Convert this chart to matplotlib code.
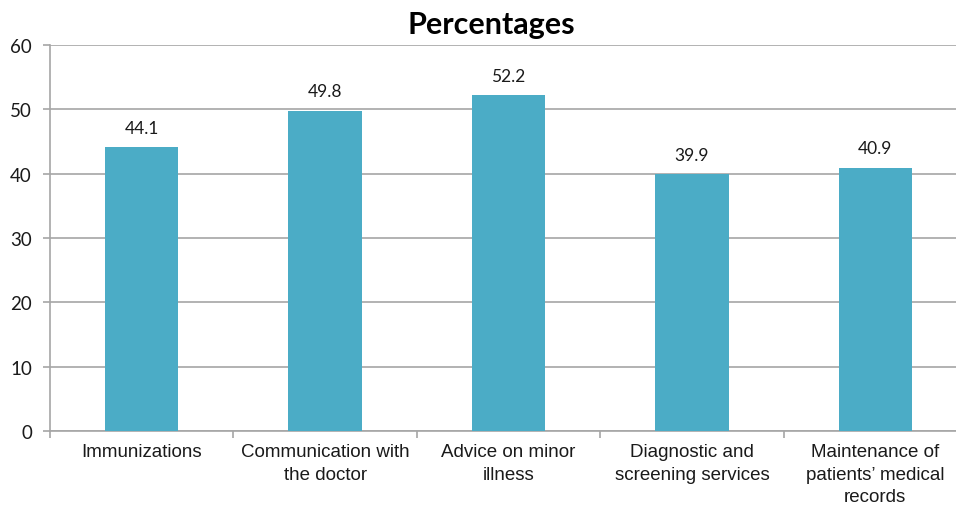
import numpy as np
import matplotlib.pyplot as plt

# Plot settings
plt.rcParams['font.family'] = 'Liberation Sans'
plt.rcParams['font.size'] = '13.5'

# Data
categories = ['Immunizations', 'Communication with\nthe doctor', 'Advice on minor\nillness',
              'Diagnostic and\nscreening services', 'Maintenance of\npatients\u2019 medical\nrecords']
values = [44.1, 49.8, 52.2, 39.9, 40.9]
yticks = [0, 10, 20, 30, 40, 50, 60]

BAR_COLOR = '#4BACC6'
GRID_COLOR = '#a6a6a6'

fig = plt.figure(figsize=(9.56, 5.06), dpi=100)
# axes runs slightly past the right border
ax = fig.add_axes([50/956, 1 - 432/506, 917/956, 386/506])

x = np.arange(len(categories))
ax.bar(x, values, width=0.4, color=BAR_COLOR, zorder=3)

for xi, v in zip(x, values):
    ax.annotate(f'{v:.1f}', (xi, v), xytext=(0, 14), textcoords='offset points',
                ha='center', va='center', fontsize=12.5, family='Lato', color='#1a1a1a')

ax.set_xlim(-0.5, len(categories) - 0.5)
ax.set_ylim(0, 60)
ax.set_yticks(yticks)
ax.set_yticklabels([str(t) for t in yticks], family='Lato', fontsize=13.5, color='#1a1a1a')
ax.yaxis.grid(True, color=GRID_COLOR, linewidth=1.2, zorder=0)

# category labels between boundary ticks
ax.set_xticks(x)
ax.set_xticklabels(categories, fontsize=13.5, linespacing=1.4, color='#1a1a1a')
ax.set_xticks(np.arange(len(categories) + 1) - 0.5, minor=True)
ax.tick_params(axis='x', which='major', length=0, pad=9)
ax.tick_params(axis='x', which='minor', length=5, color=GRID_COLOR, width=1.2)
ax.tick_params(axis='y', length=5, color=GRID_COLOR, width=1.2, pad=8)

for side in ['top', 'right']:
    ax.spines[side].set_visible(False)
for side in ['left', 'bottom']:
    ax.spines[side].set_color(GRID_COLOR)
    ax.spines[side].set_linewidth(1.2)

fig.text(0.514, 1 - 25/506, 'Percentages', ha='center', va='center',
         fontsize=22, fontweight='bold', family='Lato')

plt.savefig('out.png', dpi=100)
